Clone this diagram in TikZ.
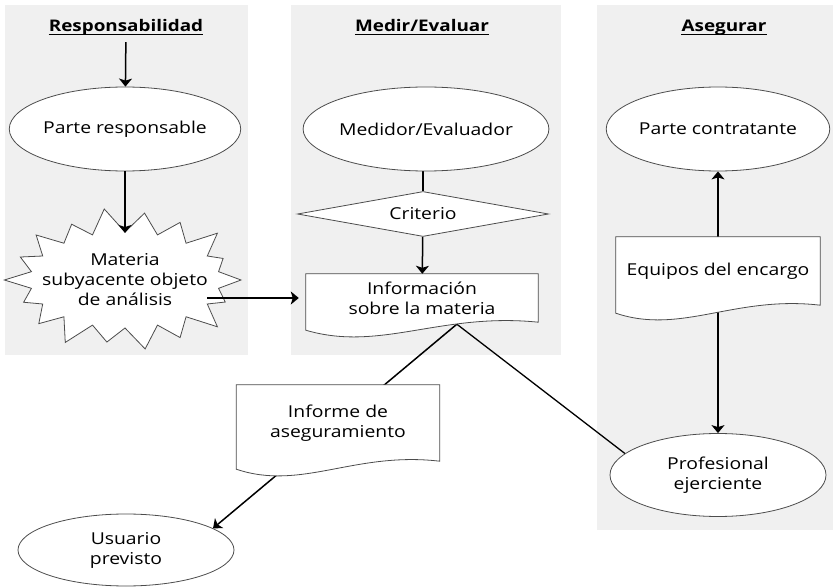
\documentclass[tikz,border=0pt]{standalone}
\usepackage{fontspec}
\setmainfont{Open Sans}[FakeStretch=1.18]
\usetikzlibrary{arrows.meta}
\usetikzlibrary{calc}
\usetikzlibrary{shapes.geometric}

\pgfdeclarelayer{panels}
\pgfdeclarelayer{background}
\pgfsetlayers{panels,background,main}

% wavy outline of a document round a node
\newcommand{\docoutline}[1]{%
  \draw[docline] (#1.north west) -- ($(#1.south west)+(0,8)$)
    .. controls ($(#1.south west)!0.32!(#1.south east)+(0,30)$)
    and ($(#1.south west)!0.58!(#1.south east)+(0,-10)$) .. (#1.south east)
    -- (#1.north east) -- cycle;}
% underline of a title node
\newcommand{\underl}[1]{%
  \draw[uline] ([yshift=-2.5pt]#1.base west) -- ([yshift=-2.5pt]#1.base east);}

\begin{document}
\begin{tikzpicture}[x=1pt, y=-1pt,
      arr/.style={-{Stealth[length=8pt,width=13pt,inset=2pt]}, line width=1.5pt},
      link/.style={line width=1.3pt},
      uline/.style={line width=1.4pt},
      panel/.style={fill=black!6},
      title/.style={font=\fontsize{16}{18}\selectfont\bfseries, inner sep=0pt, anchor=base},
      oval/.style={ellipse, draw=black!70, line width=0.8pt, fill=white,
                   minimum width=216pt, minimum height=84pt, inner sep=0pt, align=center},
      docbox/.style={minimum height=48pt, inner sep=0pt, align=center},
      docline/.style={draw=black!70, line width=0.8pt, fill=white},
      every node/.style={font=\fontsize{16.4}{20}\selectfont}
      ]
      \useasboundingbox (0,0) rectangle (836,588);

      % titles
      \node[title] (tResp) at (126,32) {Responsabilidad};
      \node[title] (tMed)  at (422,32) {Medir/Evaluar};
      \node[title] (tAseg) at (724,32) {Asegurar};
      \underl{tResp}
      \underl{tMed}
      \underl{tAseg}

      % responsabilidad
      \node[oval] (resp) at (125,129) {Parte responsable};
      \coordinate (burstC) at (125,280);
      \draw[docline] ($(burstC)+(0:116 and 70)$)
        \foreach \k [count=\i] in {0.92,1.04,0.95,1.0,0.9,1.03,0.97,0.93,1.04,
                                   0.96,1.0,0.92,1.03,0.97,0.95,1.04,0.9,1.0}
        { -- ($(burstC)+(\i*20-10:95 and 48)$) -- ($(burstC)+(\i*20:\k*116 and \k*70)$) }
        -- cycle;
      \node[align=center, inner sep=0pt] (burst) at (burstC) {Materia\\subyacente objeto\\de análisis};
      \coordinate (burstTop) at (125,233);
      \coordinate (burstOut) at (207,298);

      % medir/evaluar
      \node[oval] (medidor) at (426,129) {Medidor/Evaluador};
      \node[diamond, draw=black!70, line width=0.8pt, fill=white, aspect=5.6,
            minimum width=251pt, minimum height=45pt, inner sep=0pt]
            (crit) at (423,214) {Criterio};
      \node[docbox, minimum width=232pt] (info) at (422,298) {Información\\sobre la materia};
      \coordinate (infoTip) at ($(info.south west)!0.65!(info.south east)+(0,2)$);

      % asegurar
      \node[oval] (contrat) at (718,129) {Parte contratante};
      \node[docbox, minimum width=204pt, minimum height=68pt] (equipos) at (718,271) {Equipos del encargo};
      \node[oval, minimum height=83pt] (prof) at (718,475) {Profesional\\ejerciente};

      % report and user
      \node[docbox, minimum width=203pt, minimum height=76pt] (informe) at (338,423) {Informe de\\aseguramiento};
      \node[oval, minimum height=72pt] (usuario) at (126,550) {Usuario\\previsto};

      % arrows in front
      \draw[arr, shorten <=6pt] (tResp) -- (resp);
      \draw[arr] (resp) -- (burstTop);
      \draw[arr, shorten >=7pt] (burstOut) -- (info.west);
      \draw[arr] (crit) -- (info);

      \begin{pgfonlayer}{panels}
        \fill[panel] (5,5) rectangle (248,355);
        \fill[panel] (291,5) rectangle (561,355);
        \fill[panel] (597,5) rectangle (833,530);
      \end{pgfonlayer}

      \begin{pgfonlayer}{background}
        \draw[link] (crit.north |- medidor.south) -- (crit);
        \draw[arr] (equipos) -- (contrat);
        \draw[arr] (equipos) -- (prof);
        \draw[arr] (infoTip) -- (usuario.14);
        \draw[link] (infoTip) -- (prof.167);
        % documents
        \docoutline{info}
        \docoutline{informe}
        \docoutline{equipos}
      \end{pgfonlayer}
\end{tikzpicture}
\end{document}
